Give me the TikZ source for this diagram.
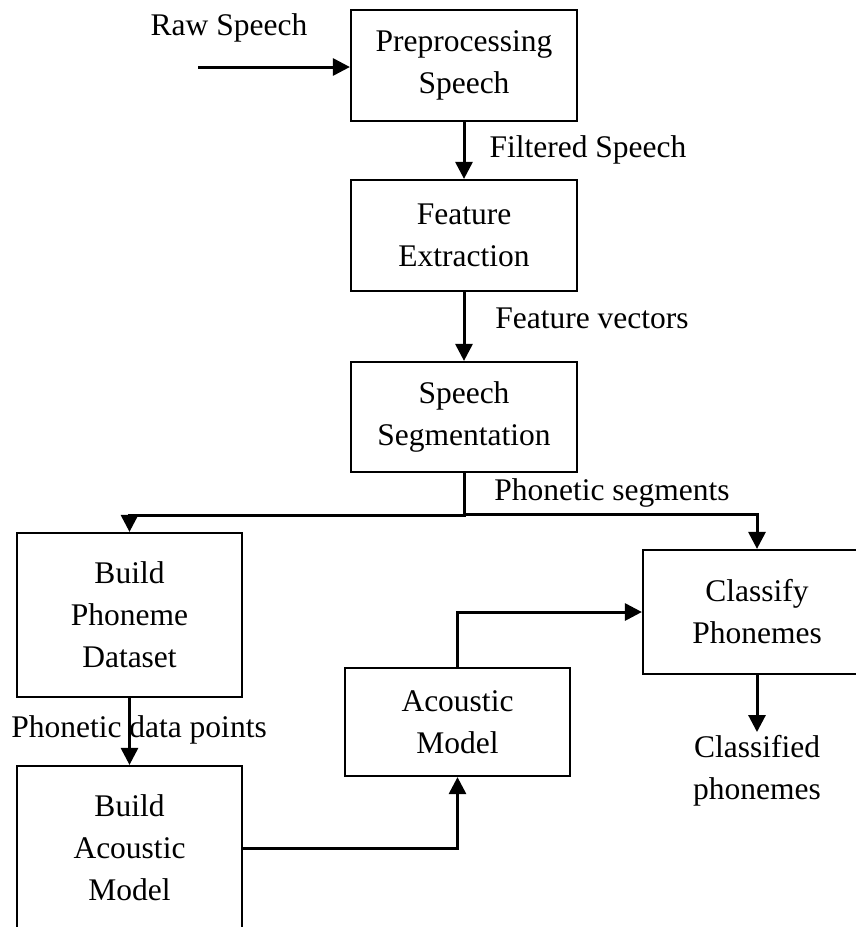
\documentclass[tikz,border=0pt]{standalone}
\usepackage{fontspec}
\setmainfont{Liberation Serif}
\usetikzlibrary{arrows.meta}

\begin{document}
\begin{tikzpicture}[x=1pt,y=-1pt,
    font=\fontsize{31.5}{42}\selectfont,
    block/.style={draw,line width=2.2pt,inner sep=0pt,align=center},
    flow/.style={line width=3pt,-{Triangle[length=17pt,width=17pt]}}]
    \useasboundingbox(0,0)rectangle(856,927);

    \node[block,minimum width=226,minimum height=111](pre)at(464,65.5){Preprocessing\\Speech};
    \node[block,minimum width=226,minimum height=111](feat)at(464,235.5){Feature\\Extraction};
    \node[block,minimum width=226,minimum height=110](seg)at(464,417){Speech\\Segmentation};
    \node[block,minimum width=225,minimum height=164](bpd)at(129.5,615){Build\\Phoneme\\Dataset};
    \node[block,minimum width=225,minimum height=164](bam)at(129.5,848){Build\\Acoustic\\Model};
    \node[block,minimum width=225,minimum height=108](am)at(457.5,722){Acoustic\\Model};
    \node[block,minimum width=228,minimum height=124](cp)at(757,612){Classify\\Phonemes};

    \node(raw)at(229,28){Raw Speech};
    \node(filt)at(588,150){Filtered Speech};
    \node(fvec)at(592,318){Feature vectors};
    \node(pseg)at(612,493){Phonetic segments};
    \node(pdat)at(139,730){Phonetic data points};
    \node[align=center](cls)at(757,771){Classified\\phonemes};
    \coordinate(rawin)at(198,67);

    \draw[flow](rawin)--(rawin-|pre.west);
    \draw[flow](pre)--(feat);
    \draw[flow](feat)--(seg);
    \draw[flow](seg.south)--++(0,42)-|(bpd.north);
    \draw[flow](seg.south)--++(0,41)-|(cp.north);
    \draw[flow](bpd)--(bam);
    \draw[flow](bam.east)-|(am.south);
    \draw[flow](am.north)|-(cp.west);
    \draw[flow](cp.south)--(cls.north);
\end{tikzpicture}
\end{document}
